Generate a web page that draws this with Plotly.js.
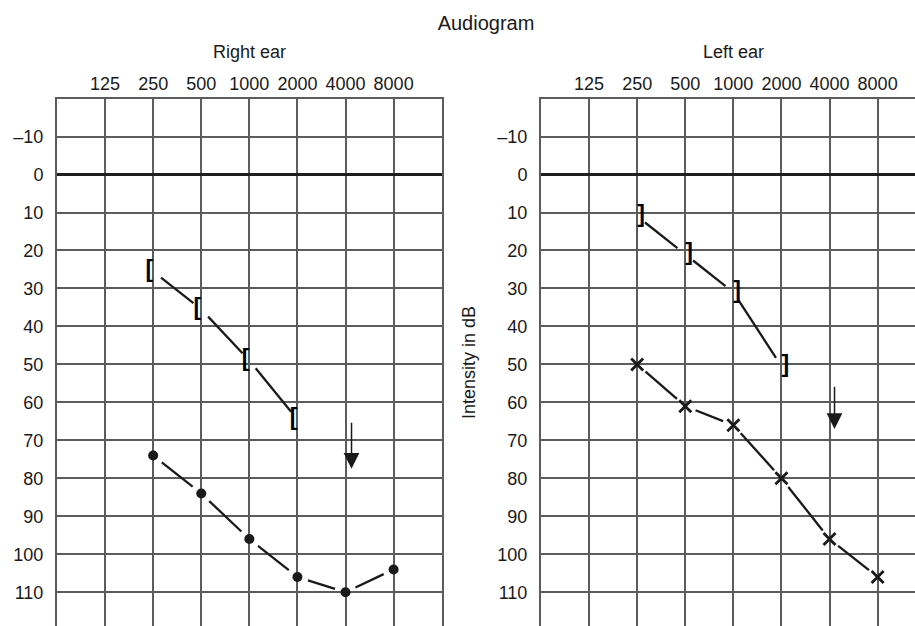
<!DOCTYPE html>
<html>
<head>
<meta charset="utf-8">
<script src="https://cdn.plot.ly/plotly-3.0.1.min.js"></script>
<style>
html,body{margin:0;padding:0;background:#fff;overflow:hidden;}
#chart{width:915px;height:626px;}
</style>
</head>
<body>
<div id="chart"></div>
<script>
// ---- data ----
const freqs = [125, 250, 500, 1000, 2000, 4000, 8000];
const freqLabels = ['125', '250', '500', '1000', '2000', '4000', '8000'];
const dbTicks = [-10, 0, 10, 20, 30, 40, 50, 60, 70, 80, 90, 100, 110];
const dbLabels = ['–10', '0', '10', '20', '30', '40', '50', '60', '70', '80', '90', '100', '110'];

const rightBoneFreq = [250, 500, 1000, 2000];
const rightBone = [25.5, 35.5, 49, 64.5];
const rightAirFreq = [250, 500, 1000, 2000, 4000, 8000];
const rightAir = [74, 84, 96, 106, 110, 104];
const rightArrowFreq = [4000];
const rightArrowTop = [65];
const rightArrowTip = [77.5];

const leftBoneFreq = [250, 500, 1000, 2000];
const leftBone = [11, 21, 31, 50.5];
const leftAirFreq = [250, 500, 1000, 2000, 4000, 8000];
const leftAir = [50, 61, 66, 80, 96, 106];
const leftArrowFreq = [4000];
const leftArrowTop = [55.5];
const leftArrowTip = [67];

// ---- geometry ----
const W = 915, H = 626;
const M = {l: 57, r: 0, t: 99, b: 0};
const plotW = W - M.l - M.r, plotH = H - M.t - M.b;
const leftPx = [57, 441.7], rightPx = [541, 915];
const dom1 = [(leftPx[0] - M.l) / plotW, (leftPx[1] - M.l) / plotW];
const dom2 = [(rightPx[0] - M.l) / plotW, 1];
const xr1 = [Math.log10(62.5), Math.log10(16000)];
const pxPerDec = (leftPx[1] - leftPx[0]) / (xr1[1] - xr1[0]);
const xr2 = [xr1[0], xr1[0] + (rightPx[1] - rightPx[0]) / pxPerDec];
const yr = [118.9, -19.9];
const pxPerDb = plotH / (yr[0] - yr[1]);

const ink = '#1a1a1a';
const gridC = '#5c5c5c';
const FONT = 'Liberation Sans, Arial, sans-serif';

// connecting segments that stop short of each symbol
function gapped(fs, vs, gap) {
  const xs = [], ys = [];
  for (let i = 0; i < fs.length - 1; i++) {
    const u1 = Math.log10(fs[i]) * pxPerDec, v1 = vs[i] * pxPerDb;
    const u2 = Math.log10(fs[i + 1]) * pxPerDec, v2 = vs[i + 1] * pxPerDb;
    const dx = u2 - u1, dy = v2 - v1, L = Math.hypot(dx, dy);
    const a = gap / L, b = 1 - gap / L;
    xs.push(Math.pow(10, (u1 + dx * a) / pxPerDec), Math.pow(10, (u1 + dx * b) / pxPerDec), null);
    ys.push((v1 + dy * a) / pxPerDb, (v1 + dy * b) / pxPerDb, null);
  }
  return {x: xs, y: ys};
}

const lineStyle = {color: ink, width: 2.3};
const traces = [];
function addLine(fs, vs, xa, ya, gap) {
  const g = gapped(fs, vs, gap);
  traces.push({type: 'scatter', mode: 'lines', x: g.x, y: g.y, xaxis: xa, yaxis: ya,
    line: lineStyle, hoverinfo: 'skip', showlegend: false, connectgaps: false});
}

// right ear
addLine(rightBoneFreq, rightBone, 'x', 'y', 10);
addLine(rightAirFreq, rightAir, 'x', 'y', 11);
traces.push({type: 'scatter', mode: 'text', x: rightBoneFreq, y: rightBone, xaxis: 'x', yaxis: 'y',
  text: rightBoneFreq.map(() => '['), textposition: 'middle left',
  textfont: {family: FONT, size: 23, color: '#000000', weight: 'bold'}, showlegend: false});
traces.push({type: 'scatter', mode: 'markers', x: rightAirFreq, y: rightAir, xaxis: 'x', yaxis: 'y',
  marker: {symbol: 'circle', size: 10, color: ink}, showlegend: false});

// left ear
addLine(leftBoneFreq, leftBone, 'x2', 'y2', 10);
addLine(leftAirFreq, leftAir, 'x2', 'y2', 11);
traces.push({type: 'scatter', mode: 'text', x: leftBoneFreq, y: leftBone, xaxis: 'x2', yaxis: 'y2',
  text: leftBoneFreq.map(() => ']'), textposition: 'middle right',
  textfont: {family: FONT, size: 23, color: '#000000', weight: 'bold'}, showlegend: false});
traces.push({type: 'scatter', mode: 'markers', x: leftAirFreq, y: leftAir, xaxis: 'x2', yaxis: 'y2',
  marker: {symbol: 'x-thin', size: 12, color: ink, line: {color: ink, width: 2.8}}, showlegend: false});

function xAxis(range, dom, anchor) {
  return {
    type: 'log', range: range, domain: dom, anchor: anchor, side: 'top',
    tickmode: 'array', tickvals: freqs, ticktext: freqLabels, ticks: '',
    tickfont: {family: FONT, size: 18, color: ink},
    showgrid: true, gridcolor: gridC, gridwidth: 2,
    showline: true, linecolor: gridC, linewidth: 2, mirror: false,
    zeroline: false, fixedrange: true
  };
}
function yAxis(anchor, mirror) {
  return {
    range: yr, domain: [0, 1], anchor: anchor,
    tickmode: 'array', tickvals: dbTicks, ticktext: dbLabels, ticks: '',
    ticklabelstandoff: 8,
    tickfont: {family: FONT, size: 18, color: ink},
    showgrid: true, gridcolor: gridC, gridwidth: 2,
    zeroline: true, zerolinecolor: '#1e1e1e', zerolinewidth: 3,
    showline: true, linecolor: gridC, linewidth: 2, mirror: mirror,
    fixedrange: true
  };
}

const ann = [];
ann.push({text: 'Right ear', xref: 'x', yref: 'paper', x: Math.log10(1000), y: (H - 52) / plotH,
  xanchor: 'center', yanchor: 'middle', showarrow: false, font: {family: FONT, size: 18, color: ink}});
ann.push({text: 'Left ear', xref: 'x2', yref: 'paper', x: Math.log10(1000), y: (H - 52) / plotH,
  xanchor: 'center', yanchor: 'middle', showarrow: false, font: {family: FONT, size: 18, color: ink}});
function addArrows(fs, tops, tips, xa, ya, shift) {
  for (let i = 0; i < fs.length; i++) {
    ann.push({text: '', xref: xa, yref: ya, axref: xa, ayref: ya,
      x: Math.log10(fs[i]), y: tips[i], ax: Math.log10(fs[i]), ay: tops[i],
      xshift: shift, showarrow: true, arrowhead: 2, arrowsize: 2.1, arrowwidth: 1.5,
      arrowcolor: ink, standoff: 0, startstandoff: 0});
  }
}
addArrows(rightArrowFreq, rightArrowTop, rightArrowTip, 'x', 'y', 6);
addArrows(leftArrowFreq, leftArrowTop, leftArrowTip, 'x2', 'y2', 5);

const y2 = yAxis('x2', false);
y2.title = {text: 'Intensity in dB', font: {family: FONT, size: 18, color: ink}, standoff: 17};

const layout = {
  width: W, height: H,
  margin: M,
  paper_bgcolor: '#fff', plot_bgcolor: '#fff',
  font: {family: FONT, color: ink},
  title: {text: 'Audiogram', font: {family: FONT, size: 20, color: ink},
    x: 0.5, xref: 'paper', xanchor: 'center', y: 1 - 23 / H, yref: 'container', yanchor: 'middle'},
  xaxis: xAxis(xr1, dom1, 'y'),
  yaxis: yAxis('x', true),
  xaxis2: xAxis(xr2, dom2, 'y2'),
  yaxis2: y2,
  annotations: ann,
  showlegend: false
};

Plotly.newPlot('chart', traces, layout, {staticPlot: true, displayModeBar: false});
</script>
</body>
</html>
